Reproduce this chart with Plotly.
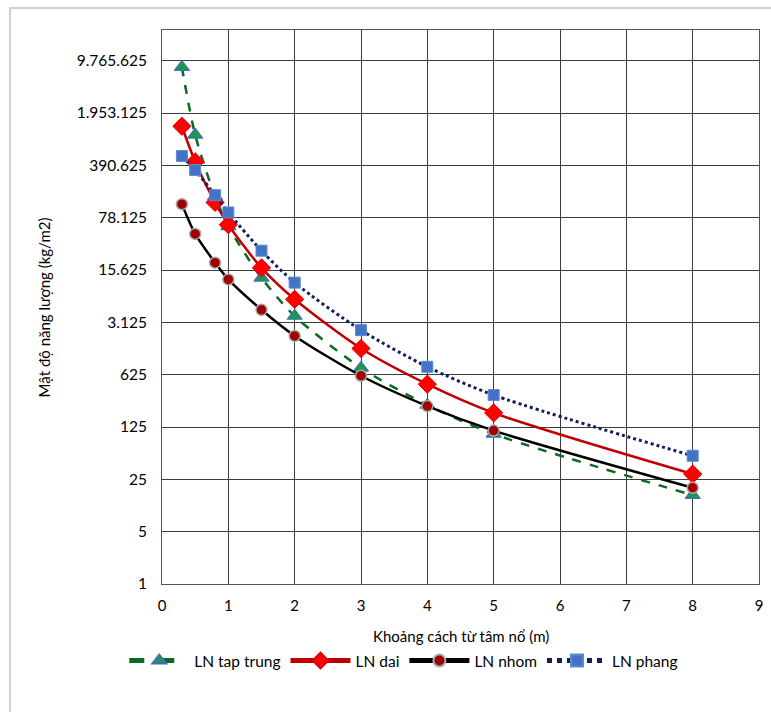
import plotly.graph_objects as go
import math

x_vals = [0.3, 0.5, 0.8, 1, 1.5, 2, 3, 4, 5, 8]
ln_tap_trung = [8000000, 1000000, 150000, 60000, 12300, 3800, 770, 246, 101, 15.4]
ln_dai = [1300000, 437000, 125000, 63000, 16700, 6350, 1400, 467, 193, 29.4]
ln_nhom = [118600, 47500, 19600, 11700, 4600, 2060, 605, 238, 112, 19.3]
ln_phang = [522000, 338000, 156000, 91800, 28300, 10600, 2460, 796, 334, 51.6]

y_tickvals = [1, 5, 25, 125, 625, 3125, 15625, 78125, 390625, 1953125, 9765625]
y_ticktext = ["1", "5", "25", "125", "625", "3.125", "15.625", "78.125",
              "390.625", "1.953.125", "9.765.625"]
x_title = "Khoảng cách từ tâm nổ (m)"
y_title = "Mật độ năng lượng (kg/m2)"

FONT = "Lato"

fig = go.Figure()
fig.add_trace(go.Scatter(
    x=x_vals, y=ln_tap_trung, name="LN tap trung", mode="lines+markers",
    line=dict(color="#0b6b23", width=2.5, dash="dash", shape="spline", smoothing=0.8),
    marker=dict(symbol="triangle-up", size=13, color="#1a9a46",
                line=dict(color="#3f6fc0", width=1.2))))
fig.add_trace(go.Scatter(
    x=x_vals, y=ln_dai, name="LN dai", mode="lines+markers",
    line=dict(color="#c00000", width=2.5, shape="spline", smoothing=0.8),
    marker=dict(symbol="diamond", size=14, color="#ff0000",
                line=dict(color="#e00000", width=1))))
fig.add_trace(go.Scatter(
    x=x_vals, y=ln_nhom, name="LN nhom", mode="lines+markers",
    line=dict(color="#000000", width=2.5, shape="spline", smoothing=0.8),
    marker=dict(symbol="circle", size=11, color="#a00000",
                line=dict(color="#a8a8a8", width=1.5))))
fig.add_trace(go.Scatter(
    x=x_vals, y=ln_phang, name="LN phang", mode="lines+markers",
    line=dict(color="#12205e", width=3, dash="dot", shape="spline", smoothing=0.8),
    marker=dict(symbol="square", size=11, color="#4472c4",
                line=dict(color="#5b8bd6", width=1))))

grid_col = "#3c3c3c"
fig.update_xaxes(
    range=[0, 9], dtick=1, tick0=0, showgrid=True, gridcolor=grid_col, gridwidth=1,
    zeroline=False, showline=True, linecolor="#555", linewidth=1, mirror=True,
    ticks="outside", ticklen=8, tickcolor="rgba(0,0,0,0)", automargin=False,
    tickfont=dict(family=FONT, size=15, color="#000"))
fig.update_yaxes(
    type="log", range=[0, 10.587 * math.log10(5)],
    tickvals=y_tickvals, ticktext=y_ticktext,
    showgrid=True, gridcolor=grid_col, gridwidth=1,
    zeroline=False, showline=True, linecolor="#555", linewidth=1, mirror=True,
    ticks="outside", ticklen=11, tickcolor="rgba(0,0,0,0)", automargin=False,
    tickfont=dict(family=FONT, size=15.5, color="#000"))

fig.update_layout(
    width=771, height=712,
    margin=dict(l=162, r=12, t=30, b=128, autoexpand=False),
    paper_bgcolor="white", plot_bgcolor="white",
    font=dict(family=FONT, size=15, color="#000"),
    showlegend=True,
    legend=dict(orientation="h", x=0.405, xanchor="center", y=-0.139, yanchor="middle",
                font=dict(family=FONT, size=15.5, color="#000"),
                itemwidth=60, itemsizing="constant", tracegroupgap=0,
                bgcolor="rgba(0,0,0,0)"),
    annotations=[
        dict(text=x_title, xref="paper", yref="paper", x=0.5, y=-0.094,
             xanchor="center", yanchor="middle", showarrow=False,
             font=dict(family=FONT, size=15, color="#000")),
        dict(text=y_title, xref="paper", yref="paper", x=-0.197, y=0.5,
             xanchor="center", yanchor="middle", showarrow=False, textangle=-90,
             font=dict(family=FONT, size=15, color="#000")),
    ],
    shapes=[
        dict(type="rect", xref="paper", yref="paper",
             x0=(10 - 162) / 597, x1=(775 - 162) / 597,
             y0=(584 - 716) / 554, y1=(584 - 8) / 554,
             line=dict(color="#d0d0d0", width=2), layer="below"),
    ],
)

fig.write_html("out.html")
